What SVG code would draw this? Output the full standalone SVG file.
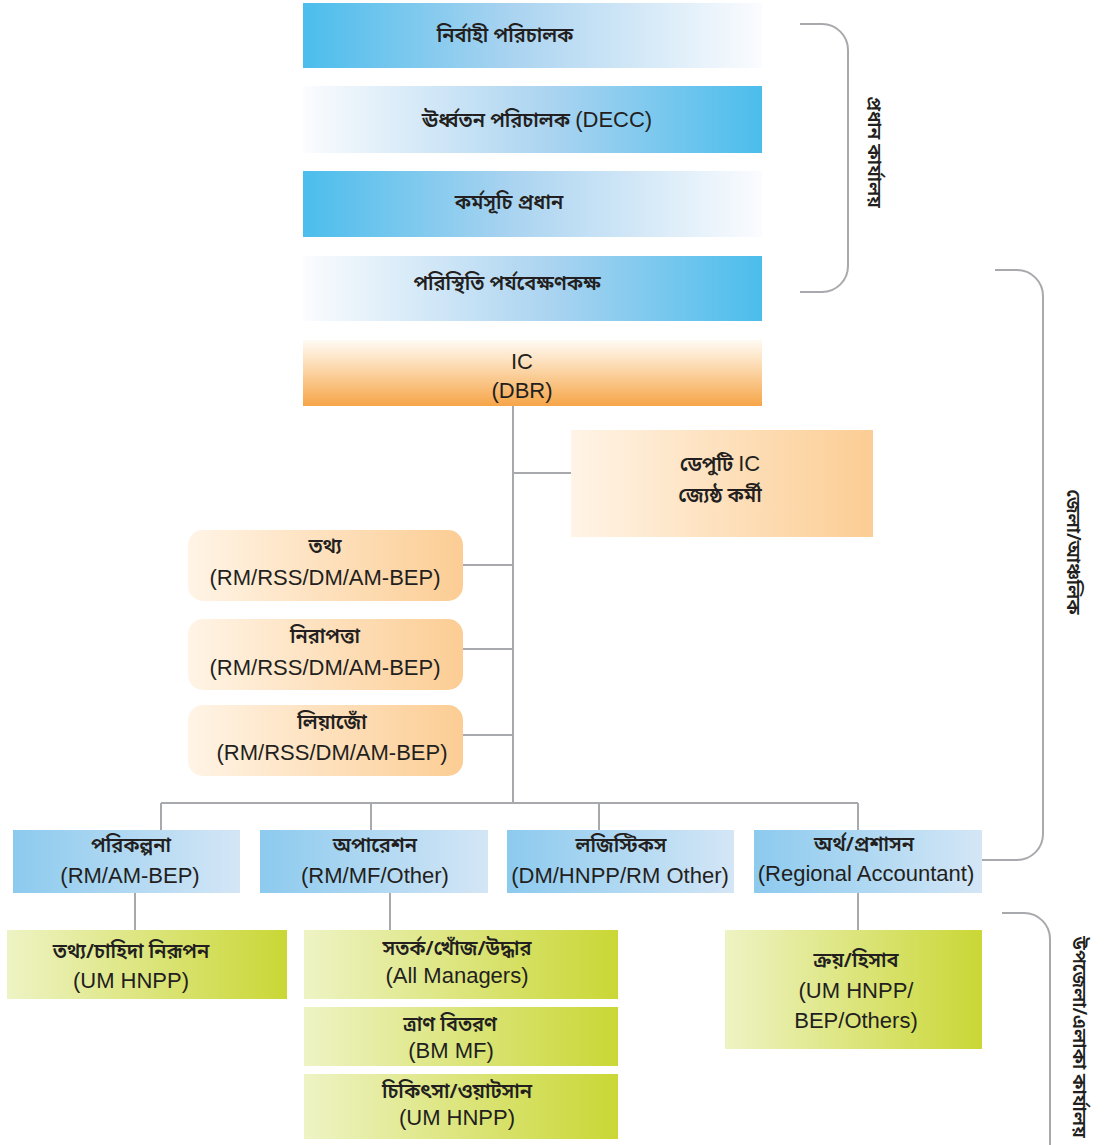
<svg xmlns="http://www.w3.org/2000/svg" width="1104" height="1145" viewBox="0 0 1104 1145">
  <defs>
    <linearGradient id="blueL" x1="0" y1="0" x2="1" y2="0">
      <stop offset="0" stop-color="#4bbdec"/>
      <stop offset="0.45" stop-color="#a9d3f0"/>
      <stop offset="1" stop-color="#fbfcfe"/>
    </linearGradient>
    <linearGradient id="blueR" x1="1" y1="0" x2="0" y2="0">
      <stop offset="0" stop-color="#4bbdec"/>
      <stop offset="0.45" stop-color="#a9d3f0"/>
      <stop offset="1" stop-color="#fbfcfe"/>
    </linearGradient>
    <linearGradient id="icGrad" x1="0" y1="0" x2="0" y2="1">
      <stop offset="0" stop-color="#fffaf4"/>
      <stop offset="0.3" stop-color="#fde3c2"/>
      <stop offset="1" stop-color="#f6a548"/>
    </linearGradient>
    <linearGradient id="peach" x1="0" y1="0" x2="1" y2="0">
      <stop offset="0" stop-color="#fff4e6"/>
      <stop offset="1" stop-color="#fccd94"/>
    </linearGradient>
    <linearGradient id="sky" x1="0" y1="0" x2="1" y2="0">
      <stop offset="0" stop-color="#8ccaee"/>
      <stop offset="1" stop-color="#d4e6f6"/>
    </linearGradient>
    <linearGradient id="lime" x1="0" y1="0" x2="1" y2="0">
      <stop offset="0" stop-color="#eef3c4"/>
      <stop offset="1" stop-color="#cad735"/>
    </linearGradient>
    <style>
      text { font-family: "Noto Sans Bengali", "Lohit Bengali", "FreeSans", "Liberation Sans", sans-serif; fill: #231f20; text-anchor: middle; }
      .bn { font-size: 20px; font-weight: 600; }
      .en { font-family: "Liberation Sans", Arial, sans-serif; font-size: 22px; font-weight: normal; }
      .side { font-size: 19px; font-weight: 600; }
      .link { fill: none; stroke: #a7a9ac; stroke-width: 2; }
    </style>
  </defs>

  <!-- connectors -->
  <g id="connectors" class="link">
    <path d="M513 406 V803"/>
    <path d="M513 473 H571"/>
    <path d="M463 565 H513 M463 649 H513 M463 735 H513"/>
    <path d="M161 803 H858 M161 803 V830 M371 803 V830 M599 803 V830 M858 803 V830"/>
    <path d="M135 893 V930 M390 893 V930 M858 893 V930"/>
    <!-- level brackets -->
    <path d="M800 24 H822 A26 26 0 0 1 848 50 V266 A26 26 0 0 1 822 292 H800"/>
    <path d="M995 270 H1017 A26 26 0 0 1 1043 296 V834 A26 26 0 0 1 1017 860 H982"/>
    <path d="M1002 913 H1024 A26 26 0 0 1 1050 939 V1145"/>
  </g>

  <!-- head office -->
  <g id="node-executive-director">
    <rect x="303" y="3" width="459" height="65" fill="url(#blueL)"/>
    <text class="bn" x="505" y="42">নির্বাহী পরিচালক</text>
  </g>
  <g id="node-senior-director">
    <rect x="303" y="86" width="459" height="67" fill="url(#blueR)"/>
    <text class="bn" x="537" y="127">ঊর্ধ্বতন পরিচালক <tspan class="en">(DECC)</tspan></text>
  </g>
  <g id="node-programme-head">
    <rect x="303" y="171" width="459" height="66" fill="url(#blueL)"/>
    <text class="bn" x="509" y="209">কর্মসূচি প্রধান</text>
  </g>
  <g id="node-situation-room">
    <rect x="303" y="256" width="459" height="65" fill="url(#blueR)"/>
    <text class="bn" x="507" y="290">পরিস্থিতি পর্যবেক্ষণকক্ষ</text>
  </g>

  <!-- incident command -->
  <g id="node-ic">
    <rect x="303" y="340" width="459" height="66" fill="url(#icGrad)"/>
    <text class="en" x="522" y="369">IC</text>
    <text class="en" x="522" y="398">(DBR)</text>
  </g>
  <g id="node-deputy-ic">
    <rect x="571" y="430" width="302" height="107" fill="url(#peach)"/>
    <text class="bn" x="720" y="471">ডেপুটি <tspan class="en">IC</tspan></text>
    <text class="bn" x="720" y="502">জ্যেষ্ঠ কর্মী</text>
  </g>
  <g id="node-information">
    <rect x="188" y="530" width="275" height="71" rx="15" fill="url(#peach)"/>
    <text class="bn" x="325" y="553">তথ্য</text>
    <text class="en" x="325" y="585">(RM/RSS/DM/AM-BEP)</text>
  </g>
  <g id="node-safety">
    <rect x="188" y="619" width="275" height="71" rx="15" fill="url(#peach)"/>
    <text class="bn" x="325" y="643">নিরাপত্তা</text>
    <text class="en" x="325" y="675">(RM/RSS/DM/AM-BEP)</text>
  </g>
  <g id="node-liaison">
    <rect x="188" y="705" width="275" height="71" rx="15" fill="url(#peach)"/>
    <text class="bn" x="332" y="729">লিয়াজোঁ</text>
    <text class="en" x="332" y="760">(RM/RSS/DM/AM-BEP)</text>
  </g>

  <!-- sections -->
  <g id="node-planning">
    <rect x="13" y="830" width="227" height="63" fill="url(#sky)"/>
    <text class="bn" x="131" y="852">পরিকল্পনা</text>
    <text class="en" x="130" y="883">(RM/AM-BEP)</text>
  </g>
  <g id="node-operations">
    <rect x="260" y="830" width="228" height="63" fill="url(#sky)"/>
    <text class="bn" x="375" y="852">অপারেশন</text>
    <text class="en" x="375" y="883">(RM/MF/Other)</text>
  </g>
  <g id="node-logistics">
    <rect x="507" y="830" width="227" height="63" fill="url(#sky)"/>
    <text class="bn" x="621" y="852">লজিস্টিকস</text>
    <text class="en" x="620" y="883">(DM/HNPP/RM Other)</text>
  </g>
  <g id="node-finance-admin">
    <rect x="754" y="830" width="228" height="63" fill="url(#sky)"/>
    <text class="bn" x="864" y="851">অর্থ/প্রশাসন</text>
    <text class="en" x="866" y="881">(Regional Accountant)</text>
  </g>

  <!-- field units -->
  <g id="node-needs-assessment">
    <rect x="7" y="930" width="280" height="69" fill="url(#lime)"/>
    <text class="bn" x="131" y="958">তথ্য/চাহিদা নিরূপন</text>
    <text class="en" x="131" y="988">(UM HNPP)</text>
  </g>
  <g id="node-search-rescue">
    <rect x="304" y="930" width="314" height="69" fill="url(#lime)"/>
    <text class="bn" x="457" y="955">সতর্ক/খোঁজ/উদ্ধার</text>
    <text class="en" x="457" y="983">(All Managers)</text>
  </g>
  <g id="node-relief">
    <rect x="304" y="1007" width="314" height="59" fill="url(#lime)"/>
    <text class="bn" x="450" y="1031">ত্রাণ বিতরণ</text>
    <text class="en" x="451" y="1058">(BM MF)</text>
  </g>
  <g id="node-medical-wash">
    <rect x="304" y="1074" width="314" height="65" fill="url(#lime)"/>
    <text class="bn" x="457" y="1098">চিকিৎসা/ওয়াটসান</text>
    <text class="en" x="457" y="1125">(UM HNPP)</text>
  </g>
  <g id="node-procurement">
    <rect x="725" y="930" width="257" height="119" fill="url(#lime)"/>
    <text class="bn" x="856" y="967">ক্রয়/হিসাব</text>
    <text class="en" x="856" y="998">(UM HNPP/</text>
    <text class="en" x="856" y="1028">BEP/Others)</text>
  </g>

  <!-- level labels -->
  <g id="label-head-office">
    <text class="side" transform="translate(868 152) rotate(90)">প্রধান কার্যালয়</text>
  </g>
  <g id="label-district">
    <text class="side" transform="translate(1067 552) rotate(90)">জেলা/আঞ্চলিক</text>
  </g>
  <g id="label-upazila">
    <text class="side" transform="translate(1073 1037) rotate(90)">উপজেলা/এলাকা কার্যালয়</text>
  </g>
</svg>
